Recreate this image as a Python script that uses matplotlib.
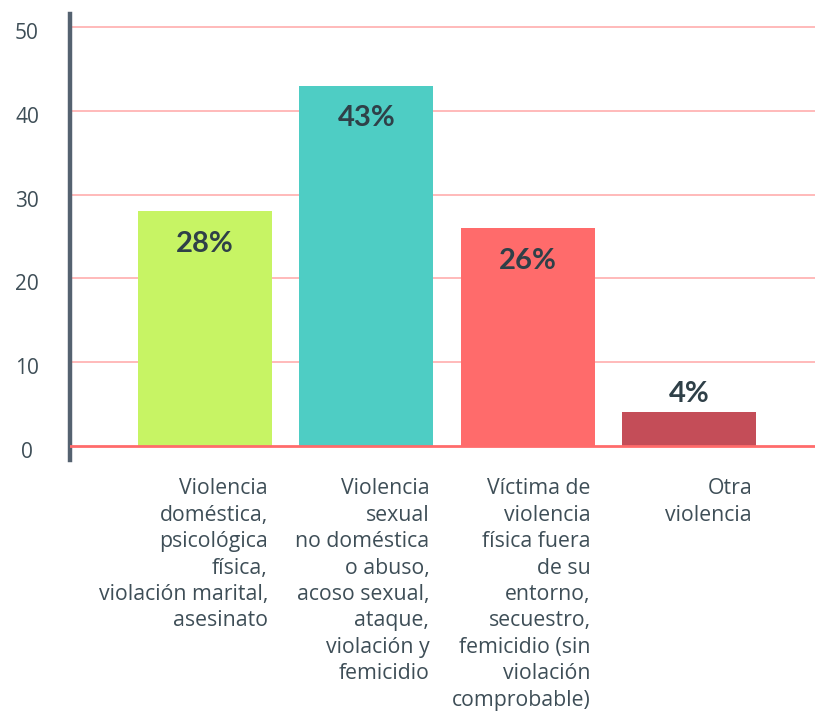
import numpy as np
import matplotlib.pyplot as plt
from matplotlib.transforms import blended_transform_factory, ScaledTranslation

plt.rcParams['font.family'] = ['Open Sans', 'DejaVu Sans']

############################################
# data
categories = [
    'Violencia\ndoméstica,\npsicológica\nfísica,\nviolación marital,\nasesinato',
    'Violencia\nsexual\nno doméstica\no abuso,\nacoso sexual,\nataque,\nviolación y\nfemicidio',
    'Víctima de\nviolencia\nfísica fuera\nde su\nentorno,\nsecuestro,\nfemicidio (sin\nviolación\ncomprobable)',
    'Otra\nviolencia',
]
values = [28, 43, 26, 4]
value_labels = ['28%', '43%', '26%', '4%']
yticks = [0, 10, 20, 30, 40, 50]

colors = ['#C7F464', '#4ECDC4', '#FF6B6B', '#C44D58']
text_color = '#2F4048'
label_color = '#3E4E57'

#############################################
## Plotting Data
fig = plt.figure(figsize=(8.15, 7.13), dpi=100)
ax = fig.add_axes([70 / 815, 1 - 460 / 713, 1 - 70 / 815, 446 / 713])

x = np.arange(len(values))
ax.bar(x, values, width=0.83, color=colors, zorder=3)

# grid
for t in yticks[1:]:
    ax.axhline(t, color='#FF6B6B', alpha=0.55, lw=1.2, zorder=1)
ax.axhline(0, color='#FF6B6B', lw=2, zorder=4)

# value labels
for xi, v, lab in zip(x, values, value_labels):
    if v > 10:
        ax.text(xi, v - 3.9, lab, ha='center', va='center', fontsize=21,
                fontweight='bold', color=text_color, zorder=5,
                family=['Lato', 'DejaVu Sans'])
    else:
        ax.text(xi, v + 2.2, lab, ha='center', va='center', fontsize=21,
                fontweight='bold', color=text_color, zorder=5,
                family=['Lato', 'DejaVu Sans'])

# category labels
trans = blended_transform_factory(ax.transData, ax.transAxes)
for xi, cat in zip(x, categories):
    ax.text(xi + 0.39, -0.041, cat, transform=trans, ha='right', va='top',
            fontsize=15.3, color=label_color, linespacing=1.34)

# axes
ax.set_xlim(-0.837, 3.78)
ax.set_ylim(-1.67, 51.55)
ax.set_yticks(yticks)
ax.set_xticks([])
ax.tick_params(axis='y', length=0, pad=31, labelsize=15, labelcolor=label_color)
shift = ScaledTranslation(0, -4 / 100, fig.dpi_scale_trans)
for lab in ax.get_yticklabels():
    lab.set_horizontalalignment('center')
    lab.set_transform(lab.get_transform() + shift)
for s in ['top', 'right', 'bottom']:
    ax.spines[s].set_visible(False)
ax.spines['left'].set_color('#556270')
ax.spines['left'].set_linewidth(3.2)

fig.savefig('out.png', dpi=100)
